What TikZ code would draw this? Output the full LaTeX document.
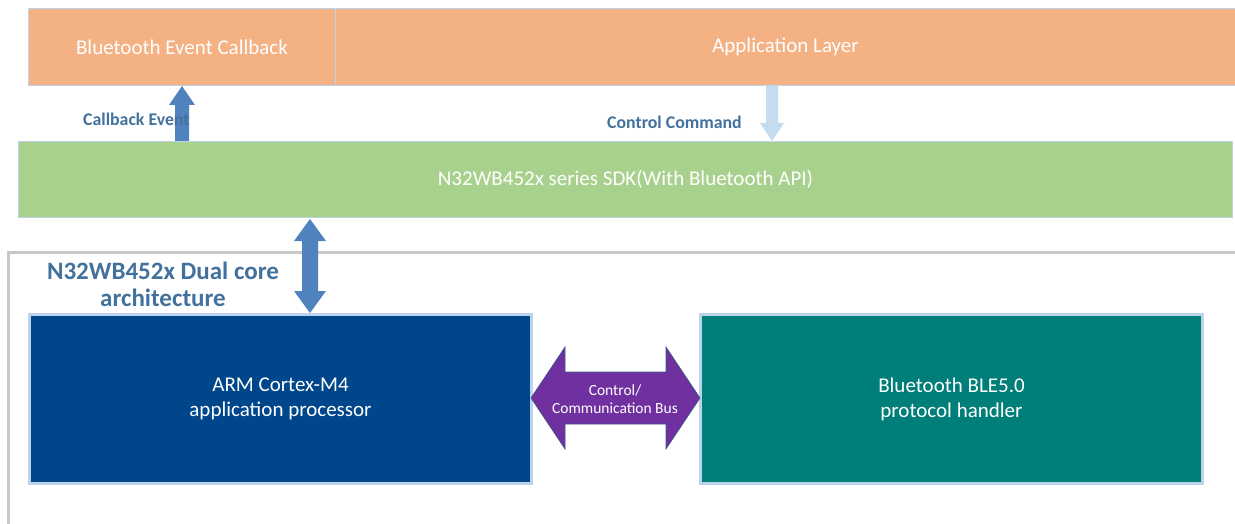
\documentclass[tikz,border=0pt]{standalone}
\usepackage{fontspec}
\setmainfont{Carlito}
\usetikzlibrary{calc}
\definecolor{orangebox}{HTML}{F4B183}
\definecolor{greenbox}{HTML}{A9D18E}
\definecolor{armblue}{HTML}{00468B}
\definecolor{tealbox}{HTML}{007E7A}
\definecolor{arrowblue}{HTML}{5082BE}
\definecolor{lightarrow}{HTML}{C5DBEF}
\definecolor{labelblue}{HTML}{41719C}
\definecolor{busviolet}{HTML}{7030A0}
\definecolor{glow}{HTML}{BDD3EC}
\definecolor{framegray}{HTML}{C8C8C8}
\tikzset{
  layer/.style={draw=glow, line width=1pt, inner sep=0pt, text=white, font=\fontsize{21}{25}\selectfont},
  core/.style={draw=glow, line width=3pt, inner sep=0pt, text=white, align=center, font=\fontsize{21}{25}\selectfont},
  lbl/.style={text=labelblue, font=\bfseries\fontsize{17.8}{20}\selectfont, inner sep=0pt},
}
\begin{document}
\begin{tikzpicture}[x=1pt,y=-1pt]
\useasboundingbox (0,0) rectangle (1235,524);
% outer frame
\draw[framegray, line width=3pt] (8,524) -- (8,252) -- (1235,252);
% top layers
\node[layer, fill=orangebox, minimum width=307pt, minimum height=77pt, anchor=north west] (cb) at (28,8) {Bluetooth Event Callback};
\node[layer, fill=orangebox, minimum width=900pt, minimum height=77pt, anchor=north west] (app) at (335,8) {Application Layer};
\node[layer, fill=greenbox, minimum width=1214pt, minimum height=76pt, anchor=north west] (sdk) at (18,141) {N32WB452x series SDK(With Bluetooth API)};
% callback arrow
\fill[arrowblue] (175,141) -- (175,105) -- (169,105) -- (182,86) -- (195,105) -- (189,105) -- (189,141) -- cycle;
\node[lbl, anchor=west] (cbe) at (83,119) {Callback Event};
% control command arrow
\node[lbl, anchor=west] (cc) at (607,122) {Control Command};
\fill[lightarrow] (766,86) -- (766,123) -- (760,123) -- (772,141) -- (784,123) -- (778,123) -- (778,86) -- cycle;
% cores
\node[core, fill=armblue, minimum width=502pt, minimum height=169pt, anchor=north west] (arm) at (28,313) {ARM Cortex-M4\\application processor};
\node[core, fill=tealbox, minimum width=502pt, minimum height=169pt, anchor=north west] (ble) at (699,313) {Bluetooth BLE5.0\\protocol handler};
% title
\node[text=labelblue, font=\bfseries\fontsize{25}{27}\selectfont, align=center, inner sep=0pt] (title) at (163,284) {N32WB452x Dual core\\architecture};
% vertical double arrow
\fill[arrowblue] (310,219) -- (326,241) -- (318,241) -- (318,291) -- (326,291) -- (310,313) -- (294,291) -- (302,291) -- (302,241) -- (294,241) -- cycle;
% bus double arrow
\filldraw[fill=busviolet, draw=arrowblue!70!black, line width=0.6pt] (531,398) -- (565,347) -- (565,372) -- (666,372) -- (666,347) -- (700,398) -- (666,449) -- (666,424) -- (565,424) -- (565,449) -- cycle;
\node[text=white, align=center, font=\fontsize{15.5}{18}\selectfont, inner sep=0pt] (bus) at (615,399) {Control/\\Communication Bus};
\end{tikzpicture}
\end{document}
